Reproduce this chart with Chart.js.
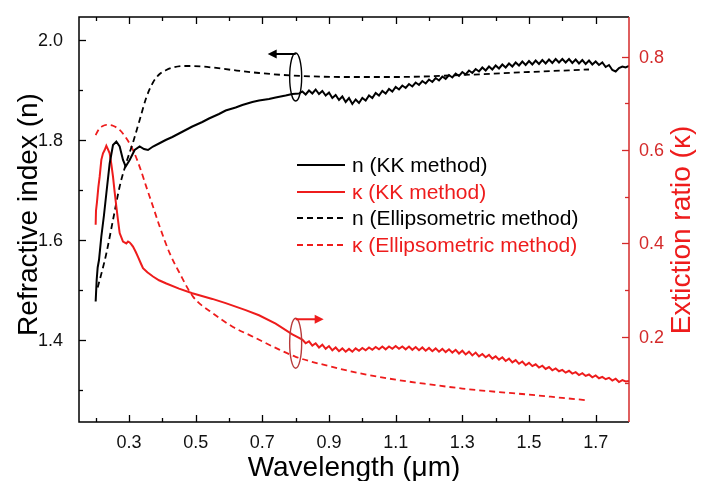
<!DOCTYPE html>
<html lang="en">
<head>
<meta charset="UTF-8" />
<title>Refractive index and extinction ratio</title>
<script src="https://cdn.jsdelivr.net/npm/chart.js"></script>
<style>
  body { margin: 0; background: #fff; }
  canvas { display: block; }
</style>
</head>
<body>
<canvas id="nkChart" width="702" height="481"></canvas>
<script>
// n from the Kramers-Kronig analysis
const lamNKK = [0.200, 0.203, 0.206, 0.210, 0.217, 0.225, 0.232, 0.242, 0.252, 0.262, 0.272, 0.282, 0.290, 0.302, 0.317, 0.332, 0.345, 0.357, 0.372,
  0.39, 0.41, 0.43, 0.45, 0.47, 0.49, 0.52, 0.54, 0.57, 0.59, 0.62, 0.64, 0.67, 0.69, 0.72, 0.74, 0.77, 0.79, 0.81,
  0.82, 0.83, 0.84, 0.85, 0.86, 0.87, 0.88, 0.89, 0.90, 0.91, 0.92, 0.93, 0.94, 0.95, 0.96, 0.97, 0.98, 0.99, 1.00,
  1.01, 1.02, 1.03, 1.04, 1.05, 1.06, 1.07, 1.08, 1.09, 1.10, 1.11, 1.12, 1.13, 1.14, 1.15, 1.16, 1.17, 1.18, 1.19, 1.20,
  1.21, 1.22, 1.23, 1.24, 1.25, 1.26, 1.27, 1.28, 1.29, 1.30, 1.31, 1.32, 1.33, 1.34, 1.35, 1.36, 1.37, 1.38, 1.39, 1.40,
  1.41, 1.42, 1.43, 1.44, 1.45, 1.46, 1.47, 1.48, 1.49, 1.50, 1.51, 1.52, 1.53, 1.54, 1.55, 1.56, 1.57, 1.58, 1.59, 1.60,
  1.61, 1.62, 1.63, 1.64, 1.65, 1.66, 1.67, 1.68, 1.69, 1.70, 1.71, 1.72, 1.73, 1.74, 1.75, 1.76, 1.77, 1.78, 1.79, 1.80];
const nKK = [1.477, 1.520, 1.545, 1.560, 1.607, 1.650, 1.693, 1.753, 1.790, 1.797, 1.787, 1.760, 1.747, 1.760, 1.780, 1.787, 1.782, 1.780, 1.787,
  1.793, 1.800, 1.806, 1.813, 1.820, 1.827, 1.836, 1.843, 1.852, 1.859, 1.865, 1.870, 1.876, 1.879, 1.882, 1.885, 1.889, 1.892, 1.893,
  1.897, 1.891, 1.899, 1.893, 1.901, 1.892, 1.898, 1.889, 1.895, 1.884, 1.890, 1.880, 1.887, 1.876, 1.884, 1.872, 1.881, 1.874, 1.884,
  1.879, 1.889, 1.884, 1.894, 1.889, 1.898, 1.893, 1.902, 1.897, 1.906, 1.901, 1.909, 1.904, 1.912, 1.907, 1.915, 1.910, 1.918, 1.913, 1.921,
  1.916, 1.924, 1.919, 1.927, 1.922, 1.930, 1.925, 1.933, 1.928, 1.936, 1.931, 1.939, 1.934, 1.942, 1.937, 1.945, 1.939, 1.947, 1.941, 1.949,
  1.943, 1.951, 1.945, 1.953, 1.947, 1.955, 1.949, 1.957, 1.950, 1.958, 1.951, 1.959, 1.952, 1.960, 1.953, 1.961, 1.954, 1.962, 1.955, 1.962,
  1.955, 1.962, 1.954, 1.961, 1.953, 1.960, 1.952, 1.959, 1.951, 1.957, 1.950, 1.955, 1.946, 1.950, 1.940, 1.937, 1.944, 1.947, 1.945, 1.948];

// kappa from the Kramers-Kronig analysis
const lamKKK = [0.200, 0.201, 0.204, 0.208, 0.212, 0.217, 0.222, 0.227, 0.232, 0.236, 0.242, 0.247, 0.252, 0.257, 0.262, 0.267, 0.272, 0.282,
  0.292, 0.297, 0.302, 0.307, 0.312, 0.320, 0.327, 0.335, 0.342, 0.355, 0.372, 0.39, 0.412, 0.45, 0.49, 0.55, 0.59, 0.65, 0.69, 0.74, 0.79,
  0.82, 0.83, 0.84, 0.85, 0.86, 0.87, 0.88, 0.89, 0.90, 0.91, 0.92, 0.93, 0.94, 0.95, 0.96, 0.97, 0.98, 0.99, 1.00,
  1.01, 1.02, 1.03, 1.04, 1.05, 1.06, 1.07, 1.08, 1.09, 1.10, 1.11, 1.12, 1.13, 1.14, 1.15, 1.16, 1.17, 1.18, 1.19, 1.20,
  1.21, 1.22, 1.23, 1.24, 1.25, 1.26, 1.27, 1.28, 1.29, 1.30, 1.31, 1.32, 1.33, 1.34, 1.35, 1.36, 1.37, 1.38, 1.39, 1.40,
  1.41, 1.42, 1.43, 1.44, 1.45, 1.46, 1.47, 1.48, 1.49, 1.50, 1.51, 1.52, 1.53, 1.54, 1.55, 1.56, 1.57, 1.58, 1.59, 1.60,
  1.61, 1.62, 1.63, 1.64, 1.65, 1.66, 1.67, 1.68, 1.69, 1.70, 1.71, 1.72, 1.73, 1.74, 1.75, 1.76, 1.77, 1.78, 1.79, 1.80];
const kKK = [0.440, 0.470, 0.489, 0.520, 0.543, 0.579, 0.593, 0.600, 0.609, 0.603, 0.593, 0.570, 0.543, 0.510, 0.479, 0.450, 0.422, 0.404,
  0.400, 0.404, 0.402, 0.398, 0.393, 0.382, 0.371, 0.358, 0.347, 0.338, 0.329, 0.321, 0.314, 0.303, 0.293, 0.281, 0.272, 0.257, 0.246, 0.228, 0.205,
  0.194, 0.186, 0.190, 0.181, 0.186, 0.177, 0.183, 0.174, 0.180, 0.171, 0.177, 0.169, 0.175, 0.168, 0.174, 0.168, 0.175, 0.170, 0.176,
  0.171, 0.177, 0.172, 0.178, 0.173, 0.179, 0.173, 0.179, 0.174, 0.180, 0.174, 0.179, 0.173, 0.179, 0.172, 0.178, 0.171, 0.177, 0.170, 0.176,
  0.169, 0.175, 0.168, 0.174, 0.167, 0.173, 0.166, 0.172, 0.164, 0.170, 0.162, 0.168, 0.160, 0.166, 0.158, 0.163, 0.156, 0.161, 0.153, 0.158,
  0.151, 0.156, 0.148, 0.153, 0.145, 0.150, 0.142, 0.147, 0.139, 0.144, 0.137, 0.141, 0.134, 0.138, 0.131, 0.135, 0.128, 0.132, 0.126, 0.129,
  0.123, 0.127, 0.121, 0.124, 0.118, 0.122, 0.116, 0.119, 0.113, 0.117, 0.111, 0.114, 0.109, 0.112, 0.106, 0.110, 0.103, 0.107, 0.104, 0.105];

// n from ellipsometry
const lamNEl = [0.206, 0.22, 0.232, 0.252, 0.272, 0.292, 0.312, 0.332, 0.352, 0.372, 0.392, 0.412, 0.432, 0.46, 0.49, 0.52, 0.55,
  0.61, 0.69, 0.79, 0.94, 1.1, 1.3, 1.5, 1.68];
const nEl = [1.505, 1.540, 1.573, 1.640, 1.707, 1.755, 1.795, 1.840, 1.885, 1.915, 1.932, 1.940, 1.945, 1.948, 1.948, 1.947, 1.945,
  1.940, 1.934, 1.929, 1.926, 1.926, 1.930, 1.936, 1.941];

// kappa from ellipsometry
const lamKEl = [0.200, 0.21, 0.22, 0.232, 0.252, 0.272, 0.292, 0.312, 0.332, 0.352, 0.372, 0.392, 0.422, 0.452, 0.492, 0.552, 0.612,
  0.672, 0.74, 0.80, 0.90, 0.99, 1.1, 1.2, 1.3, 1.4, 1.5, 1.6, 1.672];
const kEl = [0.632, 0.645, 0.651, 0.654, 0.652, 0.643, 0.625, 0.600, 0.564, 0.521, 0.479, 0.436, 0.379, 0.336, 0.286, 0.250, 0.221,
  0.200, 0.176, 0.157, 0.137, 0.122, 0.108, 0.098, 0.089, 0.082, 0.076, 0.069, 0.064];

const xTicks = [0.3, 0.5, 0.7, 0.9, 1.1, 1.3, 1.5, 1.7];
const nTicks = [1.4, 1.6, 1.8, 2.0];
const kTicks = [0.2, 0.4, 0.6, 0.8];

const legendLabels = ["n (KK method)", "\u03ba (KK method)", "n (Ellipsometric method)", "\u03ba (Ellipsometric method)"];

const RED = "#ee1c1c";
const AXIS_RED = "#d42a2a";
const FONT = "'Liberation Sans', Arial, sans-serif";

function pairs(xs, ys) {
  return xs.map((x, i) => ({ x: x, y: ys[i] }));
}

// frame, inward ticks, labels, titles, legend and the two axis markers
const axesPlugin = {
  id: "axesPlugin",
  afterDraw(chart) {
    const ctx = chart.ctx;
    const a = chart.chartArea;
    const sx = chart.scales.x, sn = chart.scales.y, sk = chart.scales.y1;
    ctx.save();

    // frame
    ctx.lineWidth = 1.5;
    ctx.strokeStyle = "#000";
    ctx.beginPath();
    ctx.moveTo(a.right, a.top); ctx.lineTo(a.left, a.top);
    ctx.lineTo(a.left, a.bottom); ctx.lineTo(a.right, a.bottom);
    ctx.stroke();
    ctx.strokeStyle = AXIS_RED;
    ctx.beginPath();
    ctx.moveTo(a.right, a.top); ctx.lineTo(a.right, a.bottom);
    ctx.stroke();

    // x ticks top and bottom
    ctx.strokeStyle = "#000";
    ctx.lineWidth = 1.3;
    for (let v = 0.2; v < 1.8; v += 0.1) {
      const px = Math.round(sx.getPixelForValue(v)) + 0.5;
      const major = Math.abs(((v - 0.3) / 0.2) - Math.round((v - 0.3) / 0.2)) < 0.01;
      const len = major ? 7 : 4;
      ctx.beginPath();
      ctx.moveTo(px, a.bottom); ctx.lineTo(px, a.bottom - len);
      ctx.moveTo(px, a.top); ctx.lineTo(px, a.top + len);
      ctx.stroke();
    }
    // left ticks
    for (let v = 1.3; v < 2.05; v += 0.1) {
      const py = Math.round(sn.getPixelForValue(v)) + 0.5;
      const major = Math.round(v * 10) % 2 === 0;
      ctx.beginPath();
      ctx.moveTo(a.left, py); ctx.lineTo(a.left + (major ? 7 : 4), py);
      ctx.stroke();
    }
    // right ticks
    ctx.strokeStyle = AXIS_RED;
    for (let v = 0.1; v < 0.85; v += 0.1) {
      const py = Math.round(sk.getPixelForValue(v)) + 0.5;
      const major = Math.round(v * 10) % 2 === 0;
      ctx.beginPath();
      ctx.moveTo(a.right, py); ctx.lineTo(a.right - (major ? 7 : 4), py);
      ctx.stroke();
    }

    // tick labels
    ctx.font = "18px " + FONT;
    ctx.fillStyle = "#111";
    ctx.textAlign = "center";
    ctx.textBaseline = "alphabetic";
    xTicks.forEach(v => ctx.fillText(v.toFixed(1), sx.getPixelForValue(v), a.bottom + 26));
    ctx.textAlign = "right";
    ctx.textBaseline = "middle";
    nTicks.forEach(v => ctx.fillText(v.toFixed(1), a.left - 16, sn.getPixelForValue(v) + 1));
    ctx.fillStyle = AXIS_RED;
    ctx.textAlign = "left";
    kTicks.forEach(v => ctx.fillText(v.toFixed(1), a.right + 10, sk.getPixelForValue(v) + 1));

    // axis titles
    ctx.font = "28px " + FONT;
    ctx.fillStyle = "#000";
    ctx.textAlign = "center";
    ctx.textBaseline = "alphabetic";
    ctx.fillText("Wavelength (\u03bcm)", (a.left + a.right) / 2, 476);
    ctx.save();
    ctx.translate(29, (a.top + a.bottom) / 2 - 5);
    ctx.rotate(-Math.PI / 2);
    ctx.textBaseline = "middle";
    ctx.fillText("Refractive index (n)", 0, 0);
    ctx.restore();
    ctx.save();
    ctx.fillStyle = RED;
    ctx.translate(682, 230);
    ctx.rotate(-Math.PI / 2);
    ctx.textBaseline = "middle";
    ctx.fillText("Extiction ratio (\u03ba)", 0, 0);
    ctx.restore();

    // legend
    const rows = [165, 192, 218, 245];
    ctx.font = "21px " + FONT;
    ctx.textAlign = "left";
    ctx.textBaseline = "middle";
    chart.data.datasets.forEach((ds, i) => {
      ctx.strokeStyle = ds.borderColor;
      ctx.lineWidth = 2;
      ctx.setLineDash(ds.borderDash || []);
      ctx.beginPath();
      ctx.moveTo(297, rows[i]); ctx.lineTo(345, rows[i]);
      ctx.stroke();
      ctx.setLineDash([]);
      ctx.fillStyle = ds.borderColor;
      ctx.fillText(legendLabels[i], 352, rows[i] + 1);
    });

    // ellipse markers pointing to the axis each pair belongs to
    const mx = sx.getPixelForValue(0.8);
    drawMarker(ctx, mx, sn.getPixelForValue(1.926), 6, 24, -1, "#000", "#000");
    drawMarker(ctx, mx, sk.getPixelForValue(0.186), 6, 25, 1, "#b83a3a", RED);

    ctx.restore();
  }
};

function drawMarker(ctx, cx, cy, rx, ry, dir, ringColor, arrowColor) {
  ctx.lineWidth = 1.4;
  ctx.strokeStyle = ringColor;
  ctx.beginPath();
  ctx.ellipse(cx, cy, rx, ry, 0, 0, Math.PI * 2);
  ctx.stroke();
  const y = cy - ry + 1;
  const tip = cx + dir * 28;
  ctx.strokeStyle = arrowColor;
  ctx.fillStyle = arrowColor;
  ctx.lineWidth = 2;
  ctx.beginPath();
  ctx.moveTo(cx, y); ctx.lineTo(tip - dir * 6, y);
  ctx.stroke();
  ctx.beginPath();
  ctx.moveTo(tip, y);
  ctx.lineTo(tip - dir * 9, y - 4.5);
  ctx.lineTo(tip - dir * 9, y + 4.5);
  ctx.closePath();
  ctx.fill();
}

const ctx = document.getElementById("nkChart").getContext("2d");
new Chart(ctx, {
  type: "line",
  data: {
    datasets: [
      { data: pairs(lamNKK, nKK), yAxisID: "y", borderColor: "#000", borderWidth: 2 },
      { data: pairs(lamKKK, kKK), yAxisID: "y1", borderColor: RED, borderWidth: 2 },
      { data: pairs(lamNEl, nEl), yAxisID: "y", borderColor: "#000", borderWidth: 1.8, borderDash: [6, 4], cubicInterpolationMode: "monotone" },
      { data: pairs(lamKEl, kEl), yAxisID: "y1", borderColor: RED, borderWidth: 1.8, borderDash: [6, 4], cubicInterpolationMode: "monotone" }
    ]
  },
  options: {
    responsive: false,
    animation: false,
    devicePixelRatio: 1,
    layout: { padding: { left: 79, right: 73, top: 17, bottom: 59 } },
    elements: { point: { radius: 0 }, line: { tension: 0 } },
    plugins: { legend: { display: false }, tooltip: { enabled: false } },
    scales: {
      x: { type: "linear", min: 0.15, max: 1.8, display: false },
      y: { type: "linear", min: 1.236, max: 2.046, display: false },
      y1: { type: "linear", min: 0.0173, max: 0.885, display: false }
    }
  },
  plugins: [axesPlugin]
});
</script>
</body>
</html>
